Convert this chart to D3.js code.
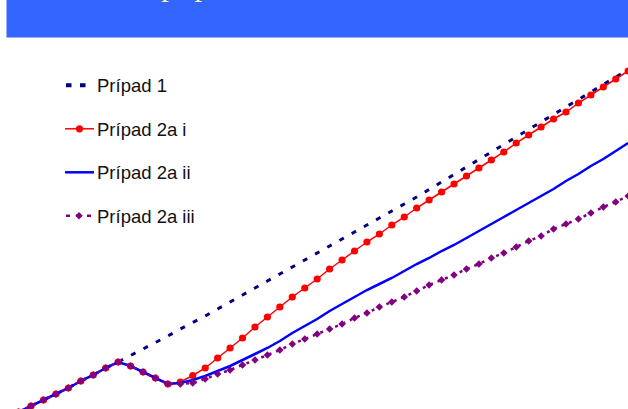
<!DOCTYPE html>
<html>
<head>
<meta charset="utf-8">
<script src="https://cdn.jsdelivr.net/npm/d3@7"></script>
<style>
  html, body { margin: 0; padding: 0; background: #fff; }
  svg { display: block; }
</style>
</head>
<body>
<svg id="chart" width="628" height="409"></svg>
<script>
// Time steps (index along the horizontal axis)
const steps = d3.range(0, 50);

// Series values per step
const pripad1 = [0, 1.2, 2.4, 3.6, 4.8, 6.2, 7.4, 8.8, 10.0,
  11.3, 12.6, 13.9, 15.2, 16.6, 17.9, 19.2, 20.6, 22.0, 23.4,
  24.8, 26.2, 27.6, 29.0, 30.4, 31.8, 33.2, 34.6, 36.0, 37.4,
  38.8, 40.2, 41.6, 43.0, 44.5, 46.0, 47.5, 49.0, 50.5, 52.0,
  53.5, 55.0, 56.5, 58.0, 59.5, 61.0, 62.5, 64.0, 65.5, 67.0, 68.5];

const pripad2aI = [0, 1.2, 2.4, 3.6, 4.8, 6.2, 7.4, 8.8, 10.0,
  9.2, 8.0, 6.8, 5.6, 6.0, 7.3, 8.8, 10.8, 12.8, 14.8,
  17.0, 19.0, 21.0, 23.0, 24.8, 26.6, 28.6, 30.4, 32.2, 34.0,
  35.6, 37.4, 39.0, 40.8, 42.4, 44.0, 45.6, 47.2, 48.8, 50.4,
  52.0, 53.8, 55.4, 57.0, 58.6, 60.0, 61.8, 63.4, 65.0, 66.6, 68.2];

const pripad2aII = [0, 1.2, 2.4, 3.6, 4.8, 6.2, 7.4, 8.8, 10.0,
  9.2, 8.0, 6.8, 5.6, 5.8, 6.4, 7.2, 8.2, 9.2, 10.4,
  11.6, 12.8, 14.2, 15.8, 17.2, 18.6, 20.2, 21.6, 23.0, 24.4,
  25.6, 26.8, 28.2, 29.6, 30.8, 32.2, 33.4, 34.8, 36.2, 37.6,
  39.0, 40.4, 41.8, 43.2, 44.6, 46.2, 47.6, 49.2, 50.6, 52.2, 53.8];

const pripad2aIII = [0, 1.2, 2.4, 3.6, 4.8, 6.2, 7.4, 8.8, 10.0,
  9.2, 8.0, 6.8, 5.6, 5.6, 5.8, 6.6, 7.6, 8.4, 9.4,
  10.4, 11.4, 12.4, 13.6, 14.6, 15.6, 16.6, 17.6, 18.8, 19.8,
  21.0, 22.0, 23.0, 24.2, 25.4, 26.4, 27.4, 28.6, 29.6, 30.8,
  31.8, 33.0, 34.2, 35.2, 36.6, 37.6, 38.6, 39.8, 41.0, 42.0, 43.2];

const seriesNames = ["Prípad 1", "Prípad 2a i", "Prípad 2a ii", "Prípad 2a iii"];
const titleText = "Porovnanie prípadov 1 a 2a";

const svg = d3.select("#chart");
const W = 628, H = 409;

// Title banner
svg.append("rect")
  .attr("x", 6.5).attr("y", -2)
  .attr("width", W).attr("height", 39.5)
  .attr("fill", "#3366FF");

svg.append("text")
  .attr("x", 17).attr("y", -4)
  .attr("font-family", "'Liberation Serif', 'Times New Roman', serif")
  .attr("font-size", 30)
  .attr("fill", "#FFFF99")
  .text(titleText);

// Scales
const x = d3.scaleLinear().domain([0, 49]).range([18.6, 628.2]);
const y = d3.scaleLinear().domain([0, 82.4]).range([412, 0]);

const line = d3.line().x((d, i) => x(steps[i])).y(d => y(d));

const plot = svg.append("g");

// Prípad 1 – dashed navy
plot.append("path")
  .datum(pripad1)
  .attr("d", line)
  .attr("fill", "none")
  .attr("stroke", "#000080")
  .attr("stroke-width", 3)
  .attr("stroke-dasharray", "5,9");

// Prípad 2a i – red with circles
plot.append("path")
  .datum(pripad2aI)
  .attr("d", line)
  .attr("fill", "none")
  .attr("stroke", "#FF0000")
  .attr("stroke-width", 1.5);
plot.selectAll("circle.p2ai")
  .data(pripad2aI)
  .join("circle")
  .attr("class", "p2ai")
  .attr("cx", (d, i) => x(steps[i]))
  .attr("cy", d => y(d))
  .attr("r", 3.6)
  .attr("fill", "#FF0000");

// Prípad 2a ii – solid blue
plot.append("path")
  .datum(pripad2aII)
  .attr("d", line)
  .attr("fill", "none")
  .attr("stroke", "#0000FF")
  .attr("stroke-width", 2.5);

// Prípad 2a iii – purple dashes with diamonds
plot.append("path")
  .datum(pripad2aIII)
  .attr("d", line)
  .attr("fill", "none")
  .attr("stroke", "#800080")
  .attr("stroke-width", 2.5)
  .attr("stroke-dasharray", "3,5");
const diamond = d3.symbol().type(d3.symbolSquare).size(28);
plot.selectAll("path.p2aiii")
  .data(pripad2aIII)
  .join("path")
  .attr("class", "p2aiii")
  .attr("d", diamond)
  .attr("transform", (d, i) => `translate(${x(steps[i])},${y(d)}) rotate(45)`)
  .attr("fill", "#800080");

// Legend
const legend = svg.append("g")
  .attr("font-family", "'Liberation Sans', Arial, sans-serif")
  .attr("font-size", 18.5)
  .attr("fill", "#111");

const rowBase = [92, 135.5, 179, 222.5];
seriesNames.forEach((name, k) => {
  const g = legend.append("g").attr("transform", `translate(0,${rowBase[k]})`);
  const ly = -6.7;
  if (k === 0) {
    g.append("line").attr("x1", 66).attr("x2", 86).attr("y1", ly).attr("y2", ly)
      .attr("stroke", "#000080").attr("stroke-width", 4)
      .attr("stroke-dasharray", "5.5,8.5");
  } else if (k === 1) {
    g.append("line").attr("x1", 65).attr("x2", 94).attr("y1", ly).attr("y2", ly)
      .attr("stroke", "#FF0000").attr("stroke-width", 1.5);
    g.append("circle").attr("cx", 79.5).attr("cy", ly).attr("r", 3.6).attr("fill", "#FF0000");
  } else if (k === 2) {
    g.append("line").attr("x1", 65).attr("x2", 94).attr("y1", ly).attr("y2", ly)
      .attr("stroke", "#0000FF").attr("stroke-width", 2.5);
  } else {
    g.append("line").attr("x1", 66).attr("x2", 91).attr("y1", ly).attr("y2", ly)
      .attr("stroke", "#800080").attr("stroke-width", 2.5)
      .attr("stroke-dasharray", "4,6,5,6,4");
    g.append("path").attr("d", diamond)
      .attr("transform", `translate(79,${ly}) rotate(45)`)
      .attr("fill", "#800080");
  }
  g.append("text").attr("x", 97).attr("y", 0).text(name);
});
</script>
</body>
</html>
